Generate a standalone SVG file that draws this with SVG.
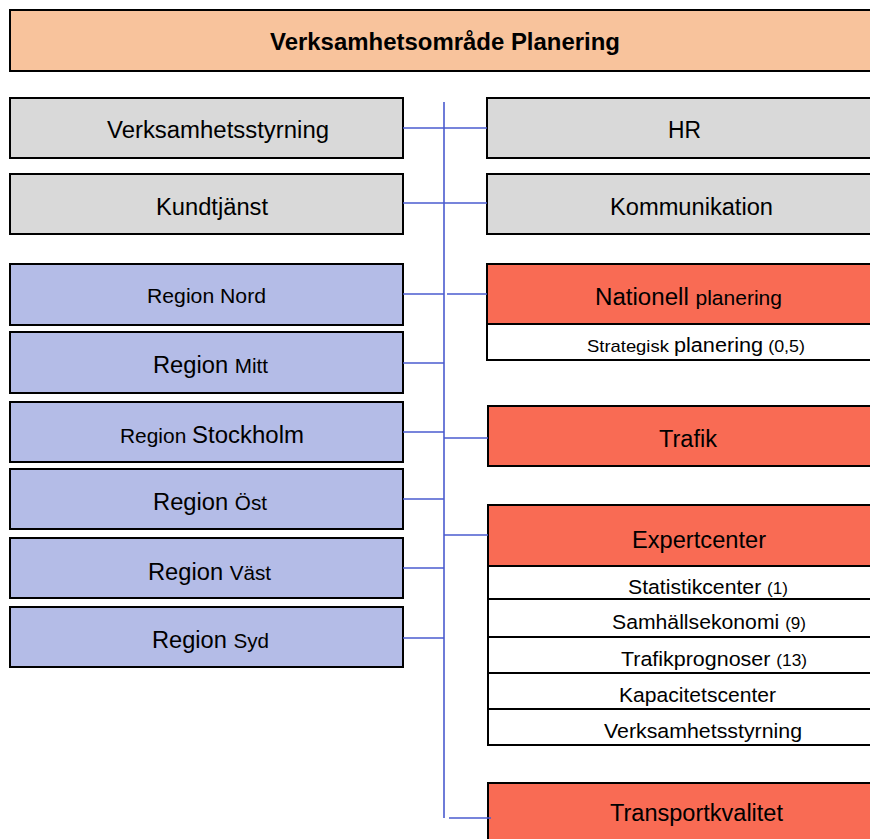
<svg xmlns="http://www.w3.org/2000/svg" width="870" height="839" viewBox="0 0 870 839">
<style>
rect{stroke:#000;stroke-width:2}
.title{fill:#F8C39C}
.gray{fill:#D9D9D9}
.blue{fill:#B4BCE7}
.red{fill:#F96B54}
.white{fill:#FFFFFF}
text{font-family:"Liberation Sans",Arial,sans-serif;fill:#000}
.L{font-size:23.5px}
.M{font-size:20.5px}
.S{font-size:16.5px}
.B{font-weight:bold;font-size:23.5px}
.conn line{stroke:#4A5BCF;stroke-width:1.6}
</style>
<g id="title"><rect class="title" x="10" y="10" width="880" height="61"/><text class="B" x="270" y="50" textLength="350" lengthAdjust="spacingAndGlyphs">Verksamhetsområde Planering</text></g>

<g id="verksamhetsstyrning"><rect class="gray" x="10" y="98" width="393" height="60"/><text class="L" x="107" y="138" textLength="222" lengthAdjust="spacingAndGlyphs">Verksamhetsstyrning</text></g>
<g id="kundtjanst"><rect class="gray" x="10" y="174" width="393" height="60"/><text class="L" x="156" y="215" textLength="112" lengthAdjust="spacingAndGlyphs">Kundtjänst</text></g>
<g id="hr"><rect class="gray" x="487" y="98" width="400" height="60"/><text class="L" x="668" y="138" textLength="33" lengthAdjust="spacingAndGlyphs">HR</text></g>
<g id="kommunikation"><rect class="gray" x="487" y="174" width="400" height="60"/><text class="L" x="610" y="215" textLength="163" lengthAdjust="spacingAndGlyphs">Kommunikation</text></g>

<g id="region-nord"><rect class="blue" x="10" y="264" width="393" height="61"/><text class="M" x="147" y="303" textLength="119" lengthAdjust="spacingAndGlyphs">Region Nord</text></g>
<g id="region-mitt"><rect class="blue" x="10" y="332" width="393" height="61"/><text class="L" x="153" y="373" textLength="115" lengthAdjust="spacingAndGlyphs">Region <tspan class="M">Mitt</tspan></text></g>
<g id="region-stockholm"><rect class="blue" x="10" y="402" width="393" height="60"/><text class="M" x="120" y="443" textLength="184" lengthAdjust="spacingAndGlyphs">Region <tspan class="L">Stockholm</tspan></text></g>
<g id="region-ost"><rect class="blue" x="10" y="469" width="393" height="60"/><text class="L" x="153" y="510" textLength="114" lengthAdjust="spacingAndGlyphs">Region <tspan class="M">Öst</tspan></text></g>
<g id="region-vast"><rect class="blue" x="10" y="538" width="393" height="60"/><text class="L" x="148" y="580" textLength="123" lengthAdjust="spacingAndGlyphs">Region <tspan class="M">Väst</tspan></text></g>
<g id="region-syd"><rect class="blue" x="10" y="607" width="393" height="60"/><text class="L" x="152" y="648" textLength="117" lengthAdjust="spacingAndGlyphs">Region <tspan class="M">Syd</tspan></text></g>

<g id="nationell-planering"><rect class="red" x="487" y="264" width="400" height="60"/><text class="L" x="595" y="305" textLength="187" lengthAdjust="spacingAndGlyphs">Nationell <tspan class="M">planering</tspan></text>
<rect class="white" x="487" y="324" width="400" height="36"/><text x="587" y="352" style="font-size:17px" textLength="218" lengthAdjust="spacingAndGlyphs">Strategisk <tspan style="font-size:20px">planering</tspan> <tspan class="S">(0,5)</tspan></text></g>

<g id="trafik"><rect class="red" x="488" y="406" width="400" height="60"/><text class="L" x="659" y="447" textLength="58" lengthAdjust="spacingAndGlyphs">Trafik</text></g>

<g id="expertcenter"><rect class="red" x="488" y="505" width="400" height="61"/><text class="L" x="632" y="548" textLength="134" lengthAdjust="spacingAndGlyphs">Expertcenter</text>
<rect class="white" x="488" y="566" width="400" height="33"/><text class="M" x="628" y="594" textLength="160" lengthAdjust="spacingAndGlyphs">Statistikcenter <tspan class="S">(1)</tspan></text>
<rect class="white" x="488" y="599" width="400" height="38"/><text class="M" x="612" y="629" textLength="194" lengthAdjust="spacingAndGlyphs">Samhällsekonomi <tspan class="S">(9)</tspan></text>
<rect class="white" x="488" y="637" width="400" height="36"/><text class="M" x="621" y="666" textLength="186" lengthAdjust="spacingAndGlyphs">Trafikprognoser <tspan class="S">(13)</tspan></text>
<rect class="white" x="488" y="673" width="400" height="36"/><text class="M" x="619" y="702" textLength="157" lengthAdjust="spacingAndGlyphs">Kapacitetscenter</text>
<rect class="white" x="488" y="709" width="400" height="36"/><text class="M" x="604" y="738" textLength="198" lengthAdjust="spacingAndGlyphs">Verksamhetsstyrning</text></g>

<g id="transportkvalitet"><rect class="red" x="488" y="783" width="400" height="70"/><text class="L" x="610" y="821" textLength="173" lengthAdjust="spacingAndGlyphs">Transportkvalitet</text></g>

<g id="connectors" class="conn">
<line x1="444" y1="102" x2="444" y2="818"/>
<line x1="403" y1="128" x2="487" y2="128"/>
<line x1="403" y1="203" x2="487" y2="203"/>
<line x1="403" y1="294" x2="444" y2="294"/>
<line x1="447" y1="294" x2="487" y2="294"/>
<line x1="403" y1="363" x2="444" y2="363"/>
<line x1="403" y1="432" x2="444" y2="432"/>
<line x1="444" y1="438" x2="488" y2="438"/>
<line x1="403" y1="499" x2="444" y2="499"/>
<line x1="444" y1="535" x2="488" y2="535"/>
<line x1="403" y1="568" x2="444" y2="568"/>
<line x1="403" y1="638" x2="444" y2="638"/>
<line x1="449" y1="818" x2="491" y2="818"/>
</g>
</svg>
